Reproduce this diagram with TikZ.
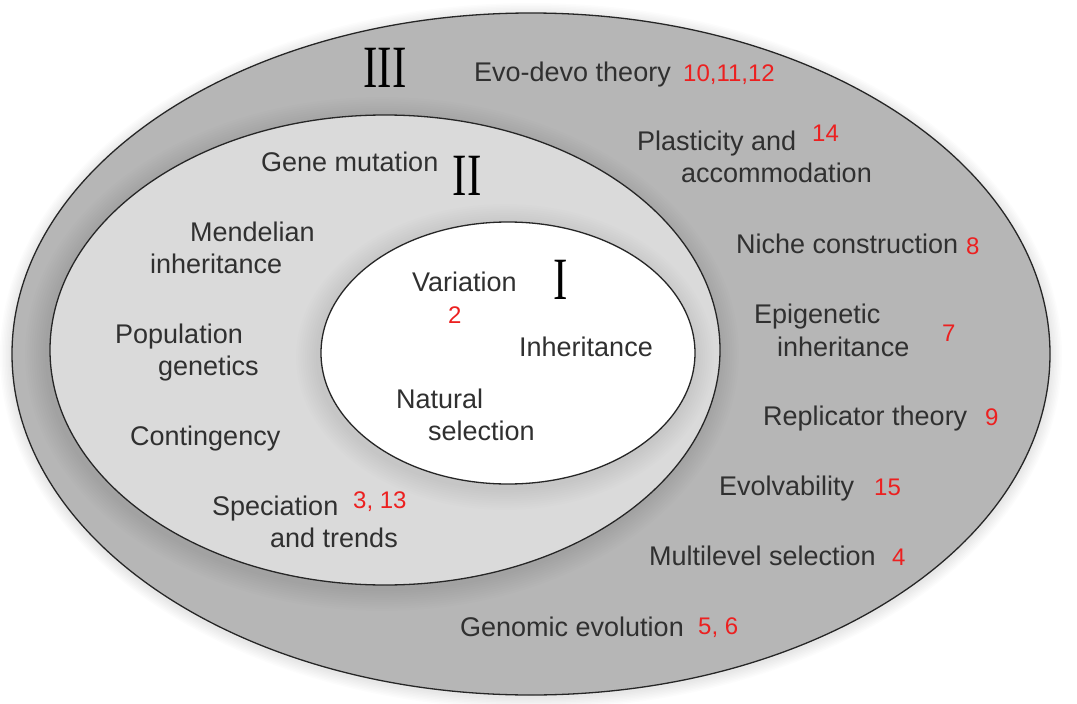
\documentclass[tikz,border=0pt]{standalone}
\usepackage{graphicx}
\usepackage{fontspec}
\setmainfont{Liberation Sans}
\newfontfamily\numeralfont{Liberation Serif}
\definecolor{bandouter}{RGB}{182,182,182}
\definecolor{bandmiddle}{RGB}{218,218,218}
\definecolor{txtgray}{RGB}{48,48,48}
\definecolor{refred}{RGB}{236,32,32}
\begin{document}
\begin{tikzpicture}[x=1pt,y=-1pt,
  lbl/.style={font=\fontsize{27}{29}\selectfont, text=txtgray, anchor=mid west, inner sep=0pt, yshift=-6pt},
  ref/.style={font=\fontsize{24}{26}\selectfont, text=refred, anchor=mid west, inner sep=0pt, yshift=-6pt},
  numeral/.style={font=\numeralfont\fontsize{60}{60}\selectfont, anchor=center, inner sep=0pt},
  ring/.style={draw=black!85, line width=1.3pt}]
\useasboundingbox (0,0) rectangle (1077,704);

% soft halo around the outer region
\foreach \k in {1,...,8}
  \fill[black, opacity=0.012] (531,356) ellipse [x radius=519+1.5*\k, y radius=341+1.5*\k];

% region III
\fill[bandouter] (531,354) ellipse [x radius=519, y radius=341];
\begin{scope}
  \clip (531,354) ellipse [x radius=519, y radius=341];
  \foreach \k in {1,...,10}
    \fill[black, opacity=0.009] (382,354) ellipse [x radius=335+2.2*\k, y radius=235+2.2*\k];
\end{scope}
\draw[ring] (531,354) ellipse [x radius=519, y radius=341];

% region II
\fill[bandmiddle] (385,350) ellipse [x radius=335, y radius=235];
\begin{scope}
  \clip (385,350) ellipse [x radius=335, y radius=235];
  \foreach \k in {1,...,10}
    \fill[black, opacity=0.007] (505,357) ellipse [x radius=187+2.2*\k, y radius=131+2.2*\k];
\end{scope}
\draw[ring] (385,350) ellipse [x radius=335, y radius=235];

% region I
\fill[white] (508,353) ellipse [x radius=187, y radius=131];
\draw[ring] (508,353) ellipse [x radius=187, y radius=131];

% region numerals
\node[numeral] (numIII) at (385,68) {\scalebox{0.72}[1]{III}};
\node[numeral] (numII) at (467,176) {\scalebox{0.72}[1]{II}};
\node[numeral] (numI) at (561,280) {\scalebox{0.72}[1]{I}};

% region III labels
\node[lbl] (evodevo) at (474,73) {Evo-devo theory};
\node[ref] (evodevoref) at (683,73) {10,11,12};
\node[lbl] (plast) at (637,142) {Plasticity and};
\node[ref] (plastref) at (812,133) {14};
\node[lbl] (accom) at (681,174) {accommodation};
\node[lbl] (niche) at (736,245) {Niche construction};
\node[ref] (nicheref) at (966,246) {8};
\node[lbl] (epi) at (754,315) {Epigenetic};
\node[ref] (epiref) at (942,333) {7};
\node[lbl] (epi2) at (777,348) {inheritance};
\node[lbl] (repl) at (763,417) {Replicator theory};
\node[ref] (replref) at (985,417) {9};
\node[lbl] (evolv) at (719,487) {Evolvability};
\node[ref] (evolvref) at (874,487) {15};
\node[lbl] (multi) at (649,557) {Multilevel selection};
\node[ref] (multiref) at (892,557) {4};
\node[lbl] (genom) at (460,628) {Genomic evolution};
\node[ref] (genomref) at (698,626) {5, 6};

% region II labels
\node[lbl] (gene) at (261,163) {Gene mutation};
\node[lbl] (mend) at (190,233) {Mendelian};
\node[lbl] (mend2) at (150,265) {inheritance};
\node[lbl] (pop) at (115,335) {Population};
\node[lbl] (pop2) at (158,367) {genetics};
\node[lbl] (cont) at (130,437) {Contingency};
\node[lbl] (spec) at (212,507) {Speciation};
\node[ref] (specref) at (353,500) {3, 13};
\node[lbl] (spec2) at (270,539) {and trends};

% region I labels
\node[lbl] (var) at (412,283) {Variation};
\node[ref] (varref) at (448,315) {2};
\node[lbl] (inh) at (519,348) {Inheritance};
\node[lbl] (nat) at (396,400) {Natural};
\node[lbl] (nat2) at (428,432) {selection};
\end{tikzpicture}
\end{document}
